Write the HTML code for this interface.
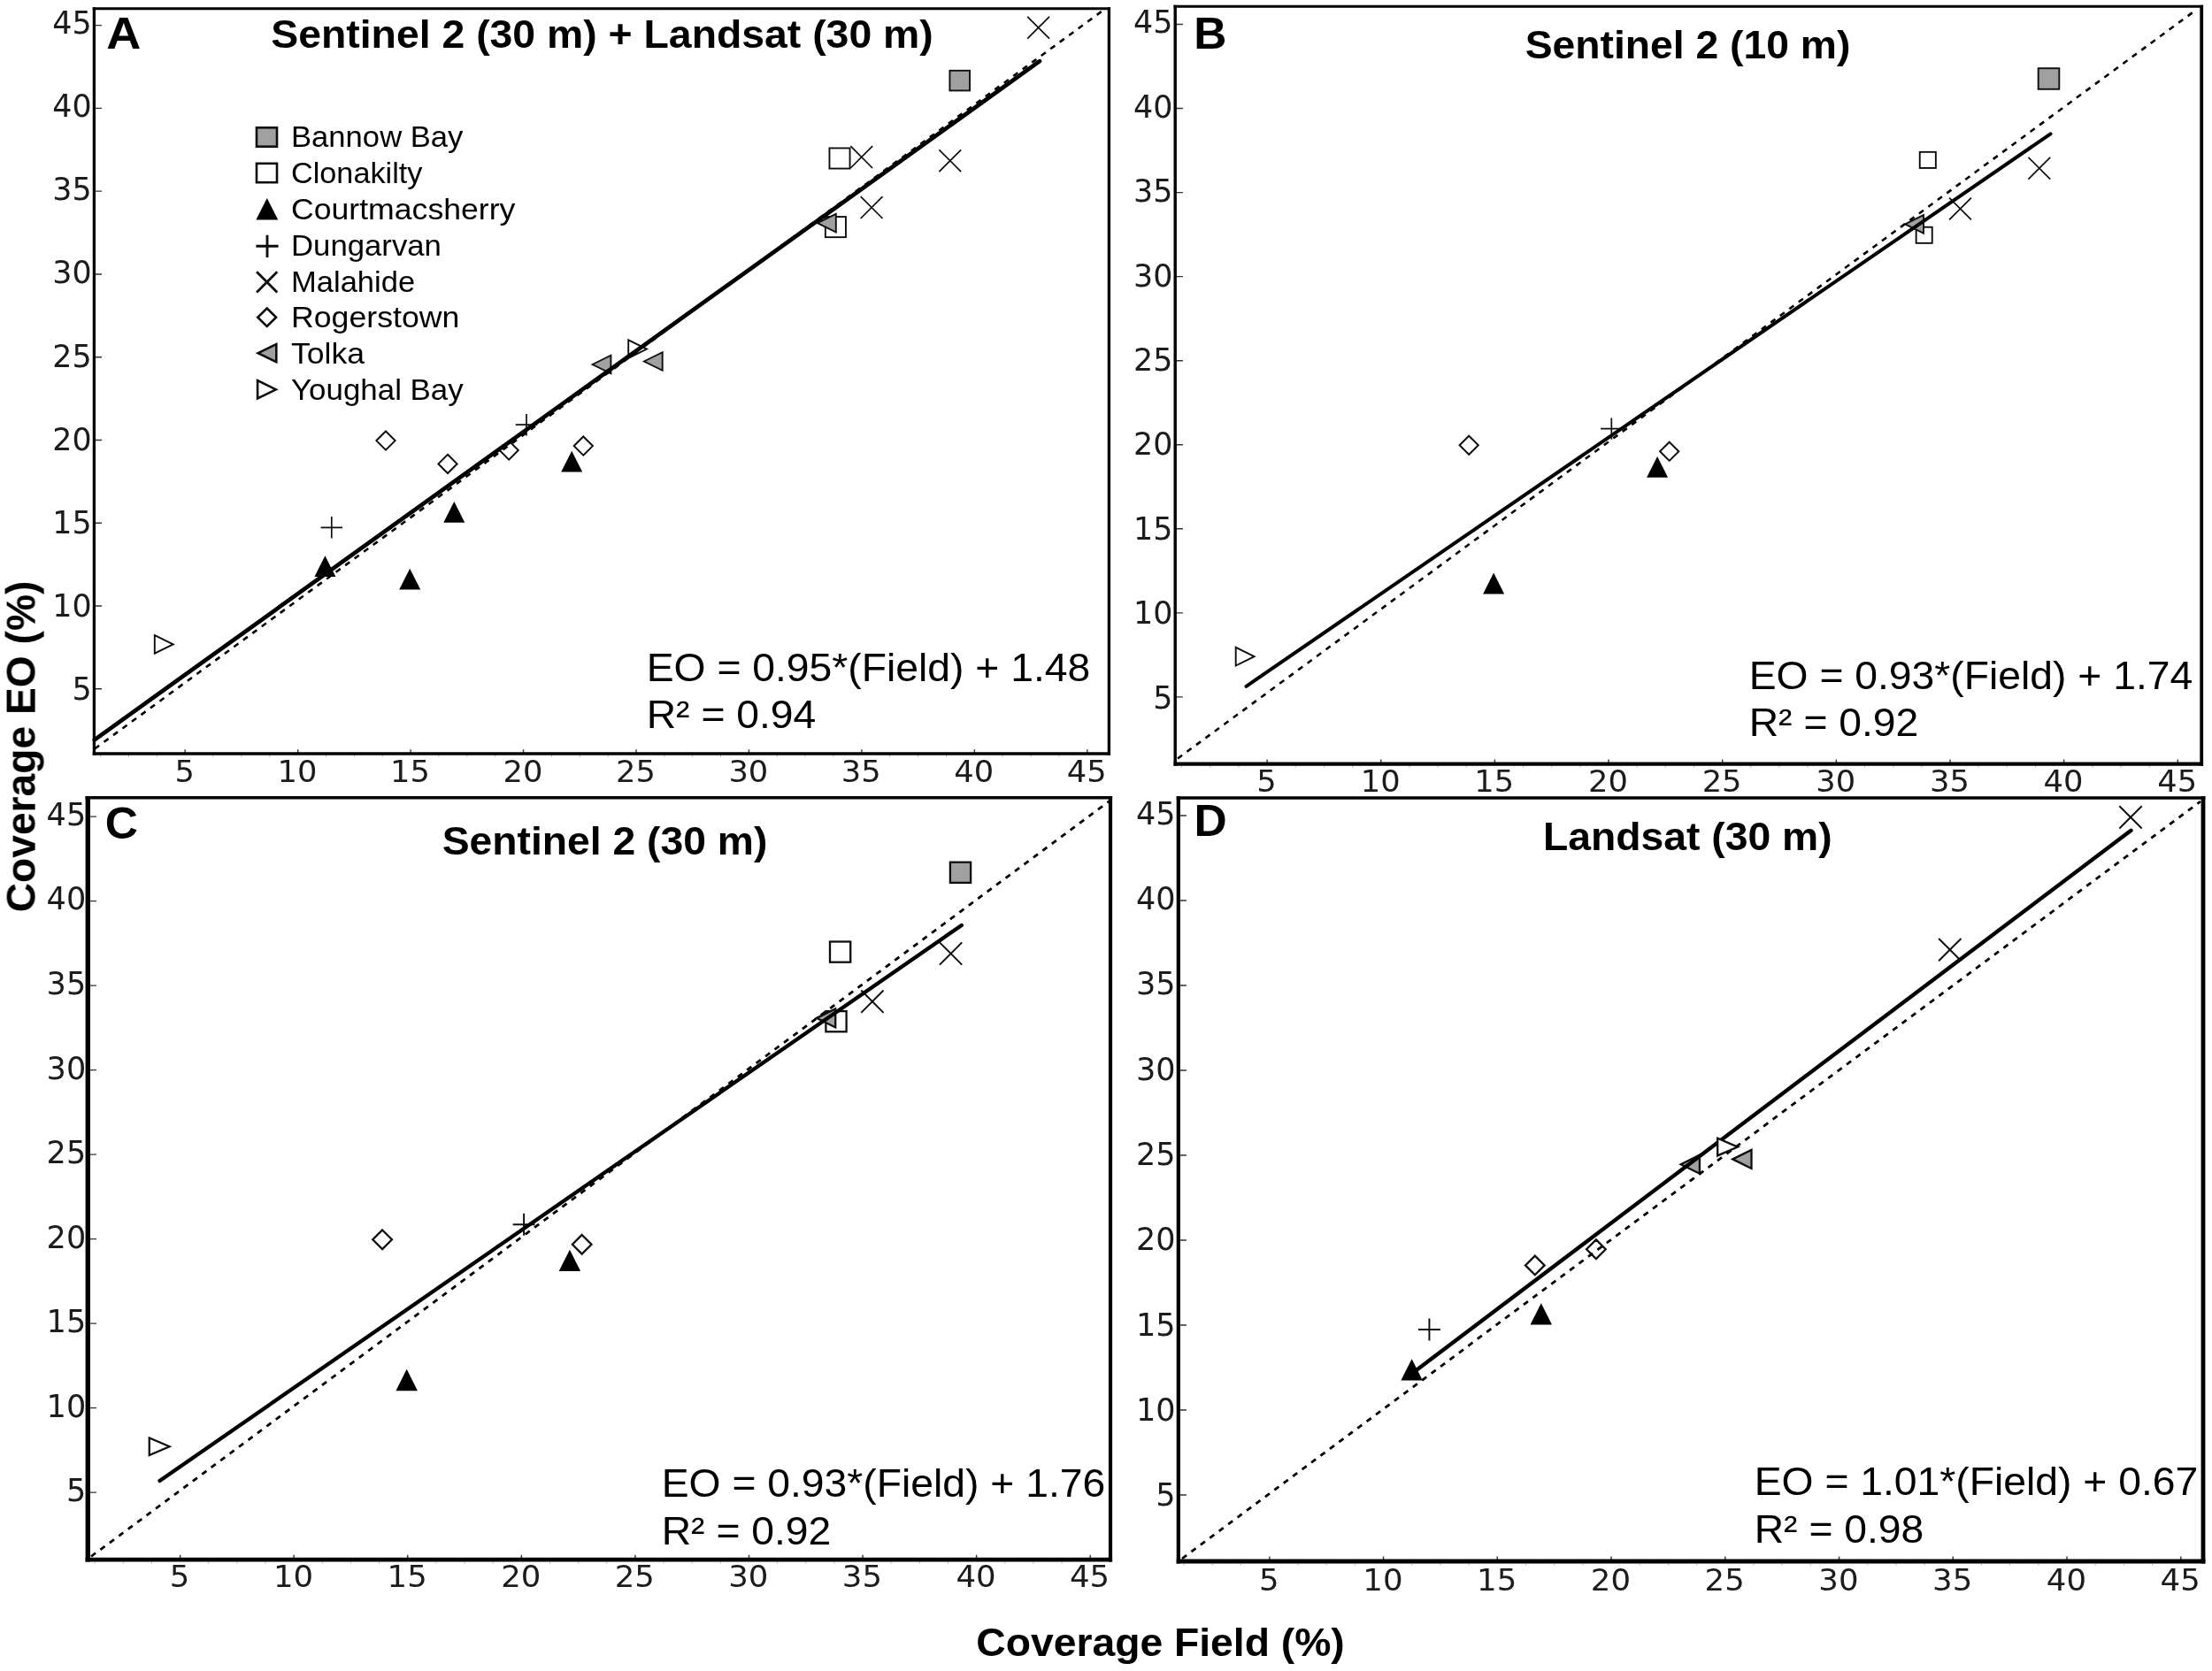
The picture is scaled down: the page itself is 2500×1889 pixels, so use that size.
<!DOCTYPE html>
<html lang="en"><head><meta charset="utf-8"><title>Coverage EO vs Coverage Field</title>
<style>html,body{margin:0;padding:0;background:#fff}svg{display:block}text{white-space:pre}</style>
</head><body>
<svg width="2500" height="1889" viewBox="0 0 2500 1889" role="img" aria-label="Coverage EO versus Coverage Field, four panels">
<defs><filter id="soft" x="0" y="0" width="2500" height="1889" filterUnits="userSpaceOnUse"><feGaussianBlur stdDeviation="0.55"/></filter></defs>
<rect x="0" y="0" width="2500" height="1889" fill="#fff"/>
<g filter="url(#soft)">
<g id="panel-A">
<path d="M113.61 853.8v2M145.47 853.8v2M177.34 853.8v2M241.06 853.8v2M272.92 853.8v2M304.79 853.8v2M368.51 853.8v2M400.38 853.8v2M432.24 853.8v2M495.96 853.8v2M527.83 853.8v2M559.69 853.8v2M623.41 853.8v2M655.27 853.8v2M687.14 853.8v2M750.86 853.8v2M782.72 853.8v2M814.59 853.8v2M878.31 853.8v2M910.17 853.8v2M942.04 853.8v2M1005.76 853.8v2M1037.62 853.8v2M1069.49 853.8v2M1133.21 853.8v2M1165.07 853.8v2M1196.94 853.8v2" stroke="#555" stroke-width="1" fill="none" opacity="0.45"/>
<path d="M209.2 852v-4.8M106.4 778.8h8.65M336.65 852v-4.8M106.4 685.02h8.65M464.1 852v-4.8M106.4 591.25h8.65M591.55 852v-4.8M106.4 497.48h8.65M719 852v-4.8M106.4 403.7h8.65M846.45 852v-4.8M106.4 309.93h8.65M973.9 852v-4.8M106.4 216.15h8.65M1101.35 852v-4.8M106.4 122.38h8.65M1228.8 852v-4.8M106.4 28.6h8.65" stroke="#333" stroke-width="1.4" fill="none"/>
<text transform="translate(208.6 884.09) scale(1.05 1)" font-family='"DejaVu Sans", "Liberation Sans", sans-serif' font-size="33.6" font-weight="normal" text-anchor="middle" fill="#1a1a1a">5</text>
<text transform="translate(103.55 790.83) scale(0.99 1)" font-family='"DejaVu Sans", "Liberation Sans", sans-serif' font-size="35.2" font-weight="normal" text-anchor="end" fill="#1a1a1a">5</text>
<text transform="translate(336.05 884.09) scale(1.05 1)" font-family='"DejaVu Sans", "Liberation Sans", sans-serif' font-size="33.6" font-weight="normal" text-anchor="middle" fill="#1a1a1a">10</text>
<text transform="translate(103.55 696.76) scale(0.99 1)" font-family='"DejaVu Sans", "Liberation Sans", sans-serif' font-size="35.2" font-weight="normal" text-anchor="end" fill="#1a1a1a">10</text>
<text transform="translate(463.5 884.09) scale(1.05 1)" font-family='"DejaVu Sans", "Liberation Sans", sans-serif' font-size="33.6" font-weight="normal" text-anchor="middle" fill="#1a1a1a">15</text>
<text transform="translate(103.55 602.68) scale(0.99 1)" font-family='"DejaVu Sans", "Liberation Sans", sans-serif' font-size="35.2" font-weight="normal" text-anchor="end" fill="#1a1a1a">15</text>
<text transform="translate(590.95 884.09) scale(1.05 1)" font-family='"DejaVu Sans", "Liberation Sans", sans-serif' font-size="33.6" font-weight="normal" text-anchor="middle" fill="#1a1a1a">20</text>
<text transform="translate(103.55 508.61) scale(0.99 1)" font-family='"DejaVu Sans", "Liberation Sans", sans-serif' font-size="35.2" font-weight="normal" text-anchor="end" fill="#1a1a1a">20</text>
<text transform="translate(718.4 884.09) scale(1.05 1)" font-family='"DejaVu Sans", "Liberation Sans", sans-serif' font-size="33.6" font-weight="normal" text-anchor="middle" fill="#1a1a1a">25</text>
<text transform="translate(103.55 414.53) scale(0.99 1)" font-family='"DejaVu Sans", "Liberation Sans", sans-serif' font-size="35.2" font-weight="normal" text-anchor="end" fill="#1a1a1a">25</text>
<text transform="translate(845.85 884.09) scale(1.05 1)" font-family='"DejaVu Sans", "Liberation Sans", sans-serif' font-size="33.6" font-weight="normal" text-anchor="middle" fill="#1a1a1a">30</text>
<text transform="translate(103.55 320.46) scale(0.99 1)" font-family='"DejaVu Sans", "Liberation Sans", sans-serif' font-size="35.2" font-weight="normal" text-anchor="end" fill="#1a1a1a">30</text>
<text transform="translate(973.3 884.09) scale(1.05 1)" font-family='"DejaVu Sans", "Liberation Sans", sans-serif' font-size="33.6" font-weight="normal" text-anchor="middle" fill="#1a1a1a">35</text>
<text transform="translate(103.55 226.38) scale(0.99 1)" font-family='"DejaVu Sans", "Liberation Sans", sans-serif' font-size="35.2" font-weight="normal" text-anchor="end" fill="#1a1a1a">35</text>
<text transform="translate(1100.75 884.09) scale(1.05 1)" font-family='"DejaVu Sans", "Liberation Sans", sans-serif' font-size="33.6" font-weight="normal" text-anchor="middle" fill="#1a1a1a">40</text>
<text transform="translate(103.55 132.31) scale(0.99 1)" font-family='"DejaVu Sans", "Liberation Sans", sans-serif' font-size="35.2" font-weight="normal" text-anchor="end" fill="#1a1a1a">40</text>
<text transform="translate(1228.2 884.09) scale(1.05 1)" font-family='"DejaVu Sans", "Liberation Sans", sans-serif' font-size="33.6" font-weight="normal" text-anchor="middle" fill="#1a1a1a">45</text>
<text transform="translate(103.55 38.23) scale(0.99 1)" font-family='"DejaVu Sans", "Liberation Sans", sans-serif' font-size="35.2" font-weight="normal" text-anchor="end" fill="#1a1a1a">45</text>
<rect x="1073.4" y="79.8" width="22.6" height="22.6" fill="#a0a0a0" stroke="#111" stroke-width="1.9"/>
<rect x="937.45" y="167.45" width="23.1" height="23.1" fill="#fff" stroke="#111" stroke-width="1.9"/>
<rect x="932.85" y="245.05" width="23.1" height="23.1" fill="#fff" stroke="#111" stroke-width="1.9"/>
<path d="M367.4 628.3L379.4 652.1L355.4 652.1Z" fill="#000" stroke="none"/>
<path d="M463.2 642.7L475.2 666.5L451.2 666.5Z" fill="#000" stroke="none"/>
<path d="M513.3 567L525.3 590.8L501.3 590.8Z" fill="#000" stroke="none"/>
<path d="M646.2 509.8L658.2 533.6L634.2 533.6Z" fill="#000" stroke="none"/>
<path d="M362.6 596.3L387 596.3M374.8 584.1L374.8 608.5" stroke="#111" stroke-width="1.7" fill="none"/>
<path d="M582.8 480.2L607.2 480.2M595 468L595 492.4" stroke="#111" stroke-width="1.7" fill="none"/>
<path d="M1161.2 18.8L1186 43.6M1161.2 43.6L1186 18.8" stroke="#111" stroke-width="1.7" fill="none"/>
<path d="M961.3 165.2L986.1 190M961.3 190L986.1 165.2" stroke="#111" stroke-width="1.7" fill="none"/>
<path d="M1061.4 169.3L1086.2 194.1M1061.4 194.1L1086.2 169.3" stroke="#111" stroke-width="1.7" fill="none"/>
<path d="M972.7 222.2L997.5 247M972.7 247L997.5 222.2" stroke="#111" stroke-width="1.7" fill="none"/>
<path d="M436 487.5L446.6 498.1L436 508.7L425.4 498.1Z" stroke="#111" stroke-width="2" fill="#fff" stroke-linejoin="miter"/>
<path d="M506 513.8L516.6 524.4L506 535L495.4 524.4Z" stroke="#111" stroke-width="2" fill="#fff" stroke-linejoin="miter"/>
<path d="M575.2 498.4L585.8 509L575.2 519.6L564.6 509Z" stroke="#111" stroke-width="2" fill="#fff" stroke-linejoin="miter"/>
<path d="M659.3 493.5L669.9 504.1L659.3 514.7L648.7 504.1Z" stroke="#111" stroke-width="2" fill="#fff" stroke-linejoin="miter"/>
<path d="M924 252.2L944.8 241.9L944.8 262.5Z" fill="#a0a0a0" stroke="#111" stroke-width="1.9" stroke-linejoin="miter"/>
<path d="M727.9 408.5L748.7 398.2L748.7 418.8Z" fill="#a0a0a0" stroke="#111" stroke-width="1.9" stroke-linejoin="miter"/>
<path d="M669.6 412L690.4 401.7L690.4 422.3Z" fill="#a0a0a0" stroke="#111" stroke-width="1.9" stroke-linejoin="miter"/>
<path d="M731 394.6L710.2 384.3L710.2 404.9Z" fill="#fff" stroke="#111" stroke-width="1.9" stroke-linejoin="miter"/>
<path d="M195.6 728.4L174.8 718.1L174.8 738.7Z" fill="#fff" stroke="#111" stroke-width="1.9" stroke-linejoin="miter"/>
<line x1="107" y1="846.5" x2="1248" y2="10.8" stroke="#000" stroke-width="2.6" stroke-dasharray="6.3 6.7"/>
<line x1="106.8" y1="836.3" x2="1175" y2="69.2" stroke="#000" stroke-width="4.7" stroke-linecap="round"/>
<path d="M104.75 9.7H1255.05" stroke="#000" stroke-width="3.1" fill="none"/>
<path d="M104.75 852H1255.05" stroke="#000" stroke-width="3.6" fill="none"/>
<path d="M106.4 8.15V853.8" stroke="#000" stroke-width="3.3" fill="none"/>
<path d="M1253.4 8.15V853.8" stroke="#000" stroke-width="3.3" fill="none"/>
<text transform="translate(120.3 55.4) scale(1.07 1)" font-family='"Liberation Sans", Arial, Helvetica, sans-serif' font-size="50.5" font-weight="bold" text-anchor="start" fill="#000">A</text>
<text transform="translate(680.5 54.2) scale(1.0541 1)" font-family='"Liberation Sans", Arial, Helvetica, sans-serif' font-size="44" font-weight="bold" text-anchor="middle" fill="#000">Sentinel 2 (30 m) + Landsat (30 m)</text>
<text transform="translate(730.7 769.9) scale(1.052 1)" font-family='"Liberation Sans", Arial, Helvetica, sans-serif' font-size="44" font-weight="normal" text-anchor="start" fill="#000">EO = 0.95*(Field) + 1.48</text>
<text transform="translate(730.7 823.3) scale(1.052 1)" font-family='"Liberation Sans", Arial, Helvetica, sans-serif' font-size="44" font-weight="normal" text-anchor="start" fill="#000">R² = 0.94</text>
</g>
<g id="panel-B">
<path d="M1335.61 865.7v2M1367.77 865.7v2M1399.94 865.7v2M1464.26 865.7v2M1496.42 865.7v2M1528.59 865.7v2M1592.91 865.7v2M1625.07 865.7v2M1657.24 865.7v2M1721.56 865.7v2M1753.72 865.7v2M1785.89 865.7v2M1850.21 865.7v2M1882.38 865.7v2M1914.54 865.7v2M1978.86 865.7v2M2011.02 865.7v2M2043.19 865.7v2M2107.51 865.7v2M2139.68 865.7v2M2171.84 865.7v2M2236.16 865.7v2M2268.32 865.7v2M2300.49 865.7v2M2364.81 865.7v2M2396.97 865.7v2M2429.14 865.7v2" stroke="#555" stroke-width="1" fill="none" opacity="0.45"/>
<path d="M1432.1 863.6v-5.1M1328.2 787.9h8.7M1560.75 863.6v-5.1M1328.2 692.85h8.7M1689.4 863.6v-5.1M1328.2 597.8h8.7M1818.05 863.6v-5.1M1328.2 502.75h8.7M1946.7 863.6v-5.1M1328.2 407.7h8.7M2075.35 863.6v-5.1M1328.2 312.65h8.7M2204 863.6v-5.1M1328.2 217.6h8.7M2332.65 863.6v-5.1M1328.2 122.55h8.7M2461.3 863.6v-5.1M1328.2 27.5h8.7" stroke="#333" stroke-width="1.4" fill="none"/>
<text transform="translate(1431.5 894.99) scale(1.05 1)" font-family='"DejaVu Sans", "Liberation Sans", sans-serif' font-size="33.6" font-weight="normal" text-anchor="middle" fill="#1a1a1a">5</text>
<text transform="translate(1325.3 800.53) scale(0.99 1)" font-family='"DejaVu Sans", "Liberation Sans", sans-serif' font-size="35.2" font-weight="normal" text-anchor="end" fill="#1a1a1a">5</text>
<text transform="translate(1560.15 894.99) scale(1.05 1)" font-family='"DejaVu Sans", "Liberation Sans", sans-serif' font-size="33.6" font-weight="normal" text-anchor="middle" fill="#1a1a1a">10</text>
<text transform="translate(1325.3 705.13) scale(0.99 1)" font-family='"DejaVu Sans", "Liberation Sans", sans-serif' font-size="35.2" font-weight="normal" text-anchor="end" fill="#1a1a1a">10</text>
<text transform="translate(1688.8 894.99) scale(1.05 1)" font-family='"DejaVu Sans", "Liberation Sans", sans-serif' font-size="33.6" font-weight="normal" text-anchor="middle" fill="#1a1a1a">15</text>
<text transform="translate(1325.3 609.73) scale(0.99 1)" font-family='"DejaVu Sans", "Liberation Sans", sans-serif' font-size="35.2" font-weight="normal" text-anchor="end" fill="#1a1a1a">15</text>
<text transform="translate(1817.45 894.99) scale(1.05 1)" font-family='"DejaVu Sans", "Liberation Sans", sans-serif' font-size="33.6" font-weight="normal" text-anchor="middle" fill="#1a1a1a">20</text>
<text transform="translate(1325.3 514.33) scale(0.99 1)" font-family='"DejaVu Sans", "Liberation Sans", sans-serif' font-size="35.2" font-weight="normal" text-anchor="end" fill="#1a1a1a">20</text>
<text transform="translate(1946.1 894.99) scale(1.05 1)" font-family='"DejaVu Sans", "Liberation Sans", sans-serif' font-size="33.6" font-weight="normal" text-anchor="middle" fill="#1a1a1a">25</text>
<text transform="translate(1325.3 418.93) scale(0.99 1)" font-family='"DejaVu Sans", "Liberation Sans", sans-serif' font-size="35.2" font-weight="normal" text-anchor="end" fill="#1a1a1a">25</text>
<text transform="translate(2074.75 894.99) scale(1.05 1)" font-family='"DejaVu Sans", "Liberation Sans", sans-serif' font-size="33.6" font-weight="normal" text-anchor="middle" fill="#1a1a1a">30</text>
<text transform="translate(1325.3 323.53) scale(0.99 1)" font-family='"DejaVu Sans", "Liberation Sans", sans-serif' font-size="35.2" font-weight="normal" text-anchor="end" fill="#1a1a1a">30</text>
<text transform="translate(2203.4 894.99) scale(1.05 1)" font-family='"DejaVu Sans", "Liberation Sans", sans-serif' font-size="33.6" font-weight="normal" text-anchor="middle" fill="#1a1a1a">35</text>
<text transform="translate(1325.3 228.13) scale(0.99 1)" font-family='"DejaVu Sans", "Liberation Sans", sans-serif' font-size="35.2" font-weight="normal" text-anchor="end" fill="#1a1a1a">35</text>
<text transform="translate(2332.05 894.99) scale(1.05 1)" font-family='"DejaVu Sans", "Liberation Sans", sans-serif' font-size="33.6" font-weight="normal" text-anchor="middle" fill="#1a1a1a">40</text>
<text transform="translate(1325.3 132.73) scale(0.99 1)" font-family='"DejaVu Sans", "Liberation Sans", sans-serif' font-size="35.2" font-weight="normal" text-anchor="end" fill="#1a1a1a">40</text>
<text transform="translate(2460.7 894.99) scale(1.05 1)" font-family='"DejaVu Sans", "Liberation Sans", sans-serif' font-size="33.6" font-weight="normal" text-anchor="middle" fill="#1a1a1a">45</text>
<text transform="translate(1325.3 37.33) scale(0.99 1)" font-family='"DejaVu Sans", "Liberation Sans", sans-serif' font-size="35.2" font-weight="normal" text-anchor="end" fill="#1a1a1a">45</text>
<rect x="2303.7" y="77.2" width="23.6" height="23.6" fill="#a0a0a0" stroke="#111" stroke-width="1.9"/>
<rect x="2169.75" y="171.85" width="18.1" height="18.1" fill="#fff" stroke="#111" stroke-width="1.9"/>
<rect x="2165.65" y="256.75" width="18.1" height="18.1" fill="#fff" stroke="#111" stroke-width="1.9"/>
<path d="M1688.1 647.6L1700.1 671.4L1676.1 671.4Z" fill="#000" stroke="none"/>
<path d="M1873.1 516L1885.1 539.8L1861.1 539.8Z" fill="#000" stroke="none"/>
<path d="M1809.1 484.6L1833.5 484.6M1821.3 472.4L1821.3 496.8" stroke="#111" stroke-width="1.7" fill="none"/>
<path d="M2292.4 177.8L2317.2 202.6M2292.4 202.6L2317.2 177.8" stroke="#111" stroke-width="1.7" fill="none"/>
<path d="M2203.1 223.6L2227.9 248.4M2203.1 248.4L2227.9 223.6" stroke="#111" stroke-width="1.7" fill="none"/>
<path d="M1660.2 492.7L1670.8 503.3L1660.2 513.9L1649.6 503.3Z" stroke="#111" stroke-width="2" fill="#fff" stroke-linejoin="miter"/>
<path d="M1886.7 499.7L1897.3 510.3L1886.7 520.9L1876.1 510.3Z" stroke="#111" stroke-width="2" fill="#fff" stroke-linejoin="miter"/>
<path d="M2153.2 253.4L2174 243.1L2174 263.7Z" fill="#a0a0a0" stroke="#111" stroke-width="1.9" stroke-linejoin="miter"/>
<path d="M1417.5 742.2L1396.7 731.9L1396.7 752.5Z" fill="#fff" stroke="#111" stroke-width="1.9" stroke-linejoin="miter"/>
<line x1="1331" y1="857.5" x2="2483" y2="10.5" stroke="#000" stroke-width="2.6" stroke-dasharray="6.3 6.7"/>
<line x1="1408.5" y1="775.8" x2="2317.5" y2="151.4" stroke="#000" stroke-width="4" stroke-linecap="round"/>
<path d="M1326.5 7.3H2490.1" stroke="#000" stroke-width="3" fill="none"/>
<path d="M1326.5 863.6H2490.1" stroke="#000" stroke-width="4.2" fill="none"/>
<path d="M1328.2 5.8V865.7" stroke="#000" stroke-width="3.4" fill="none"/>
<path d="M2488.2 5.8V865.7" stroke="#000" stroke-width="3.8" fill="none"/>
<text transform="translate(1349.2 55.4) scale(1.02 1)" font-family='"Liberation Sans", Arial, Helvetica, sans-serif' font-size="50.5" font-weight="bold" text-anchor="start" fill="#000">B</text>
<text transform="translate(1907.5 66.4) scale(1.052 1)" font-family='"Liberation Sans", Arial, Helvetica, sans-serif' font-size="44" font-weight="bold" text-anchor="middle" fill="#000">Sentinel 2 (10 m)</text>
<text transform="translate(1976.7 779.4) scale(1.052 1)" font-family='"Liberation Sans", Arial, Helvetica, sans-serif' font-size="44" font-weight="normal" text-anchor="start" fill="#000">EO = 0.93*(Field) + 1.74</text>
<text transform="translate(1976.7 832.3) scale(1.052 1)" font-family='"Liberation Sans", Arial, Helvetica, sans-serif' font-size="44" font-weight="normal" text-anchor="start" fill="#000">R² = 0.92</text>
</g>
<g id="panel-C">
<path d="M107.17 1765.6v2M139.31 1765.6v2M171.46 1765.6v2M235.74 1765.6v2M267.89 1765.6v2M300.03 1765.6v2M364.32 1765.6v2M396.46 1765.6v2M428.61 1765.6v2M492.89 1765.6v2M525.04 1765.6v2M557.18 1765.6v2M621.47 1765.6v2M653.61 1765.6v2M685.76 1765.6v2M750.04 1765.6v2M782.19 1765.6v2M814.33 1765.6v2M878.62 1765.6v2M910.76 1765.6v2M942.91 1765.6v2M1007.19 1765.6v2M1039.34 1765.6v2M1071.48 1765.6v2M1135.77 1765.6v2M1167.91 1765.6v2M1200.06 1765.6v2" stroke="#555" stroke-width="1" fill="none" opacity="0.45"/>
<path d="M203.6 1763.2v-5.4M99.3 1687.1h9.7M332.17 1763.2v-5.4M99.3 1591.6h9.7M460.75 1763.2v-5.4M99.3 1496.1h9.7M589.33 1763.2v-5.4M99.3 1400.6h9.7M717.9 1763.2v-5.4M99.3 1305.1h9.7M846.48 1763.2v-5.4M99.3 1209.6h9.7M975.05 1763.2v-5.4M99.3 1114.1h9.7M1103.62 1763.2v-5.4M99.3 1018.6h9.7M1232.2 1763.2v-5.4M99.3 923.1h9.7" stroke="#333" stroke-width="1.4" fill="none"/>
<text transform="translate(203 1794.24) scale(1.05 1)" font-family='"DejaVu Sans", "Liberation Sans", sans-serif' font-size="33.8" font-weight="normal" text-anchor="middle" fill="#1a1a1a">5</text>
<text transform="translate(97.2 1697.4) scale(0.99 1)" font-family='"DejaVu Sans", "Liberation Sans", sans-serif' font-size="35.4" font-weight="normal" text-anchor="end" fill="#1a1a1a">5</text>
<text transform="translate(331.57 1794.24) scale(1.05 1)" font-family='"DejaVu Sans", "Liberation Sans", sans-serif' font-size="33.8" font-weight="normal" text-anchor="middle" fill="#1a1a1a">10</text>
<text transform="translate(97.2 1601.84) scale(0.99 1)" font-family='"DejaVu Sans", "Liberation Sans", sans-serif' font-size="35.4" font-weight="normal" text-anchor="end" fill="#1a1a1a">10</text>
<text transform="translate(460.15 1794.24) scale(1.05 1)" font-family='"DejaVu Sans", "Liberation Sans", sans-serif' font-size="33.8" font-weight="normal" text-anchor="middle" fill="#1a1a1a">15</text>
<text transform="translate(97.2 1506.28) scale(0.99 1)" font-family='"DejaVu Sans", "Liberation Sans", sans-serif' font-size="35.4" font-weight="normal" text-anchor="end" fill="#1a1a1a">15</text>
<text transform="translate(588.73 1794.24) scale(1.05 1)" font-family='"DejaVu Sans", "Liberation Sans", sans-serif' font-size="33.8" font-weight="normal" text-anchor="middle" fill="#1a1a1a">20</text>
<text transform="translate(97.2 1410.72) scale(0.99 1)" font-family='"DejaVu Sans", "Liberation Sans", sans-serif' font-size="35.4" font-weight="normal" text-anchor="end" fill="#1a1a1a">20</text>
<text transform="translate(717.3 1794.24) scale(1.05 1)" font-family='"DejaVu Sans", "Liberation Sans", sans-serif' font-size="33.8" font-weight="normal" text-anchor="middle" fill="#1a1a1a">25</text>
<text transform="translate(97.2 1315.15) scale(0.99 1)" font-family='"DejaVu Sans", "Liberation Sans", sans-serif' font-size="35.4" font-weight="normal" text-anchor="end" fill="#1a1a1a">25</text>
<text transform="translate(845.88 1794.24) scale(1.05 1)" font-family='"DejaVu Sans", "Liberation Sans", sans-serif' font-size="33.8" font-weight="normal" text-anchor="middle" fill="#1a1a1a">30</text>
<text transform="translate(97.2 1219.59) scale(0.99 1)" font-family='"DejaVu Sans", "Liberation Sans", sans-serif' font-size="35.4" font-weight="normal" text-anchor="end" fill="#1a1a1a">30</text>
<text transform="translate(974.45 1794.24) scale(1.05 1)" font-family='"DejaVu Sans", "Liberation Sans", sans-serif' font-size="33.8" font-weight="normal" text-anchor="middle" fill="#1a1a1a">35</text>
<text transform="translate(97.2 1124.03) scale(0.99 1)" font-family='"DejaVu Sans", "Liberation Sans", sans-serif' font-size="35.4" font-weight="normal" text-anchor="end" fill="#1a1a1a">35</text>
<text transform="translate(1103.03 1794.24) scale(1.05 1)" font-family='"DejaVu Sans", "Liberation Sans", sans-serif' font-size="33.8" font-weight="normal" text-anchor="middle" fill="#1a1a1a">40</text>
<text transform="translate(97.2 1028.47) scale(0.99 1)" font-family='"DejaVu Sans", "Liberation Sans", sans-serif' font-size="35.4" font-weight="normal" text-anchor="end" fill="#1a1a1a">40</text>
<text transform="translate(1231.6 1794.24) scale(1.05 1)" font-family='"DejaVu Sans", "Liberation Sans", sans-serif' font-size="33.8" font-weight="normal" text-anchor="middle" fill="#1a1a1a">45</text>
<text transform="translate(97.2 932.9) scale(0.99 1)" font-family='"DejaVu Sans", "Liberation Sans", sans-serif' font-size="35.4" font-weight="normal" text-anchor="end" fill="#1a1a1a">45</text>
<rect x="1073.9" y="974.7" width="23.2" height="23.2" fill="#a0a0a0" stroke="#111" stroke-width="2.3"/>
<rect x="938" y="1064.5" width="23.2" height="23.2" fill="#fff" stroke="#111" stroke-width="2.3"/>
<rect x="933.4" y="1143.1" width="23.2" height="23.2" fill="#fff" stroke="#111" stroke-width="2.3"/>
<path d="M459.7 1547.86L471.94 1572.14L447.46 1572.14Z" fill="#000" stroke="none"/>
<path d="M643.9 1412.76L656.14 1437.04L631.66 1437.04Z" fill="#000" stroke="none"/>
<path d="M579.66 1384.2L604.54 1384.2M592.1 1371.76L592.1 1396.64" stroke="#111" stroke-width="1.95" fill="none"/>
<path d="M1061.95 1065.35L1087.25 1090.65M1061.95 1090.65L1087.25 1065.35" stroke="#111" stroke-width="1.95" fill="none"/>
<path d="M973.25 1119.55L998.55 1144.85M973.25 1144.85L998.55 1119.55" stroke="#111" stroke-width="1.95" fill="none"/>
<path d="M432.1 1390.49L442.91 1401.3L432.1 1412.11L421.29 1401.3Z" stroke="#111" stroke-width="2.3" fill="#fff" stroke-linejoin="miter"/>
<path d="M657.7 1395.99L668.51 1406.8L657.7 1417.61L646.89 1406.8Z" stroke="#111" stroke-width="2.3" fill="#fff" stroke-linejoin="miter"/>
<path d="M922.99 1150.9L944.21 1140.39L944.21 1161.41Z" fill="#a0a0a0" stroke="#111" stroke-width="2.3" stroke-linejoin="miter"/>
<path d="M191.62 1635.3L168.78 1625.51L168.78 1645.09Z" fill="#fff" stroke="#111" stroke-width="2.3" stroke-linejoin="miter"/>
<line x1="103" y1="1759.5" x2="1254" y2="905.5" stroke="#000" stroke-width="2.8" stroke-dasharray="6.3 6.7"/>
<line x1="180.5" y1="1674" x2="1086.8" y2="1046" stroke="#000" stroke-width="4.3" stroke-linecap="round"/>
<path d="M96.6 901.7H1257.1" stroke="#000" stroke-width="3.6" fill="none"/>
<path d="M96.6 1763.2H1257.1" stroke="#000" stroke-width="4.8" fill="none"/>
<path d="M99.3 899.9V1765.6" stroke="#000" stroke-width="5.4" fill="none"/>
<path d="M1255 899.9V1765.6" stroke="#000" stroke-width="4.2" fill="none"/>
<text transform="translate(118.8 947.6) scale(1.02 1)" font-family='"Liberation Sans", Arial, Helvetica, sans-serif' font-size="50.5" font-weight="bold" text-anchor="start" fill="#000">C</text>
<text transform="translate(683.5 965.9) scale(1.052 1)" font-family='"Liberation Sans", Arial, Helvetica, sans-serif' font-size="44" font-weight="bold" text-anchor="middle" fill="#000">Sentinel 2 (30 m)</text>
<text transform="translate(747.7 1692.1) scale(1.052 1)" font-family='"Liberation Sans", Arial, Helvetica, sans-serif' font-size="44" font-weight="normal" text-anchor="start" fill="#000">EO = 0.93*(Field) + 1.76</text>
<text transform="translate(747.7 1745.5) scale(1.052 1)" font-family='"Liberation Sans", Arial, Helvetica, sans-serif' font-size="44" font-weight="normal" text-anchor="start" fill="#000">R² = 0.92</text>
</g>
<g id="panel-D">
<path d="M1338.24 1767.5v2M1370.42 1767.5v2M1402.61 1767.5v2M1466.99 1767.5v2M1499.17 1767.5v2M1531.36 1767.5v2M1595.74 1767.5v2M1627.92 1767.5v2M1660.11 1767.5v2M1724.49 1767.5v2M1756.67 1767.5v2M1788.86 1767.5v2M1853.24 1767.5v2M1885.42 1767.5v2M1917.61 1767.5v2M1981.99 1767.5v2M2014.17 1767.5v2M2046.36 1767.5v2M2110.74 1767.5v2M2142.93 1767.5v2M2175.11 1767.5v2M2239.49 1767.5v2M2271.68 1767.5v2M2303.86 1767.5v2M2368.24 1767.5v2M2400.43 1767.5v2M2432.61 1767.5v2" stroke="#555" stroke-width="1" fill="none" opacity="0.45"/>
<path d="M1434.8 1765v-5.5M1331.8 1690h9.1M1563.55 1765v-5.5M1331.8 1594h9.1M1692.3 1765v-5.5M1331.8 1498h9.1M1821.05 1765v-5.5M1331.8 1402h9.1M1949.8 1765v-5.5M1331.8 1306h9.1M2078.55 1765v-5.5M1331.8 1210h9.1M2207.3 1765v-5.5M1331.8 1114h9.1M2336.05 1765v-5.5M1331.8 1018h9.1M2464.8 1765v-5.5M1331.8 922h9.1" stroke="#333" stroke-width="1.4" fill="none"/>
<text transform="translate(1434.2 1797.94) scale(1.05 1)" font-family='"DejaVu Sans", "Liberation Sans", sans-serif' font-size="33.8" font-weight="normal" text-anchor="middle" fill="#1a1a1a">5</text>
<text transform="translate(1328.5 1702.4) scale(0.99 1)" font-family='"DejaVu Sans", "Liberation Sans", sans-serif' font-size="35.4" font-weight="normal" text-anchor="end" fill="#1a1a1a">5</text>
<text transform="translate(1562.95 1797.94) scale(1.05 1)" font-family='"DejaVu Sans", "Liberation Sans", sans-serif' font-size="33.8" font-weight="normal" text-anchor="middle" fill="#1a1a1a">10</text>
<text transform="translate(1328.5 1606.08) scale(0.99 1)" font-family='"DejaVu Sans", "Liberation Sans", sans-serif' font-size="35.4" font-weight="normal" text-anchor="end" fill="#1a1a1a">10</text>
<text transform="translate(1691.7 1797.94) scale(1.05 1)" font-family='"DejaVu Sans", "Liberation Sans", sans-serif' font-size="33.8" font-weight="normal" text-anchor="middle" fill="#1a1a1a">15</text>
<text transform="translate(1328.5 1509.75) scale(0.99 1)" font-family='"DejaVu Sans", "Liberation Sans", sans-serif' font-size="35.4" font-weight="normal" text-anchor="end" fill="#1a1a1a">15</text>
<text transform="translate(1820.45 1797.94) scale(1.05 1)" font-family='"DejaVu Sans", "Liberation Sans", sans-serif' font-size="33.8" font-weight="normal" text-anchor="middle" fill="#1a1a1a">20</text>
<text transform="translate(1328.5 1413.43) scale(0.99 1)" font-family='"DejaVu Sans", "Liberation Sans", sans-serif' font-size="35.4" font-weight="normal" text-anchor="end" fill="#1a1a1a">20</text>
<text transform="translate(1949.2 1797.94) scale(1.05 1)" font-family='"DejaVu Sans", "Liberation Sans", sans-serif' font-size="33.8" font-weight="normal" text-anchor="middle" fill="#1a1a1a">25</text>
<text transform="translate(1328.5 1317.1) scale(0.99 1)" font-family='"DejaVu Sans", "Liberation Sans", sans-serif' font-size="35.4" font-weight="normal" text-anchor="end" fill="#1a1a1a">25</text>
<text transform="translate(2077.95 1797.94) scale(1.05 1)" font-family='"DejaVu Sans", "Liberation Sans", sans-serif' font-size="33.8" font-weight="normal" text-anchor="middle" fill="#1a1a1a">30</text>
<text transform="translate(1328.5 1220.78) scale(0.99 1)" font-family='"DejaVu Sans", "Liberation Sans", sans-serif' font-size="35.4" font-weight="normal" text-anchor="end" fill="#1a1a1a">30</text>
<text transform="translate(2206.7 1797.94) scale(1.05 1)" font-family='"DejaVu Sans", "Liberation Sans", sans-serif' font-size="33.8" font-weight="normal" text-anchor="middle" fill="#1a1a1a">35</text>
<text transform="translate(1328.5 1124.45) scale(0.99 1)" font-family='"DejaVu Sans", "Liberation Sans", sans-serif' font-size="35.4" font-weight="normal" text-anchor="end" fill="#1a1a1a">35</text>
<text transform="translate(2335.45 1797.94) scale(1.05 1)" font-family='"DejaVu Sans", "Liberation Sans", sans-serif' font-size="33.8" font-weight="normal" text-anchor="middle" fill="#1a1a1a">40</text>
<text transform="translate(1328.5 1028.13) scale(0.99 1)" font-family='"DejaVu Sans", "Liberation Sans", sans-serif' font-size="35.4" font-weight="normal" text-anchor="end" fill="#1a1a1a">40</text>
<text transform="translate(2464.2 1797.94) scale(1.05 1)" font-family='"DejaVu Sans", "Liberation Sans", sans-serif' font-size="33.8" font-weight="normal" text-anchor="middle" fill="#1a1a1a">45</text>
<text transform="translate(1328.5 931.8) scale(0.99 1)" font-family='"DejaVu Sans", "Liberation Sans", sans-serif' font-size="35.4" font-weight="normal" text-anchor="end" fill="#1a1a1a">45</text>
<path d="M1595.6 1536.16L1607.84 1560.44L1583.36 1560.44Z" fill="#000" stroke="none"/>
<path d="M1741.8 1473.26L1754.04 1497.54L1729.56 1497.54Z" fill="#000" stroke="none"/>
<path d="M1602.96 1503L1627.84 1503M1615.4 1490.56L1615.4 1515.44" stroke="#111" stroke-width="1.95" fill="none"/>
<path d="M2395.35 911.25L2420.65 936.55M2395.35 936.55L2420.65 911.25" stroke="#111" stroke-width="1.95" fill="none"/>
<path d="M2191.15 1060.95L2216.45 1086.25M2191.15 1086.25L2216.45 1060.95" stroke="#111" stroke-width="1.95" fill="none"/>
<path d="M1734.8 1419.59L1745.61 1430.4L1734.8 1441.21L1723.99 1430.4Z" stroke="#111" stroke-width="2.3" fill="#fff" stroke-linejoin="miter"/>
<path d="M1803.9 1401.39L1814.71 1412.2L1803.9 1423.01L1793.09 1412.2Z" stroke="#111" stroke-width="2.3" fill="#fff" stroke-linejoin="miter"/>
<path d="M1958.29 1310.4L1979.51 1299.89L1979.51 1320.91Z" fill="#a0a0a0" stroke="#111" stroke-width="2.3" stroke-linejoin="miter"/>
<path d="M1899.69 1316.2L1920.91 1305.69L1920.91 1326.71Z" fill="#a0a0a0" stroke="#111" stroke-width="2.3" stroke-linejoin="miter"/>
<line x1="1336" y1="1762" x2="2487" y2="906" stroke="#000" stroke-width="2.8" stroke-dasharray="6.3 6.7"/>
<line x1="1599.7" y1="1549.7" x2="2408.5" y2="938.8" stroke="#000" stroke-width="4.4" stroke-linecap="round"/>
<path d="M1964.02 1296.6L1941.18 1286.81L1941.18 1306.39Z" fill="#fff" stroke="#111" stroke-width="2.3" stroke-linejoin="miter"/>
<path d="M1329.7 902H2492.4" stroke="#000" stroke-width="3.7" fill="none"/>
<path d="M1329.7 1765H2492.4" stroke="#000" stroke-width="5" fill="none"/>
<path d="M1331.8 900.15V1767.5" stroke="#000" stroke-width="4.2" fill="none"/>
<path d="M2490 900.15V1767.5" stroke="#000" stroke-width="4.8" fill="none"/>
<text transform="translate(1349.4 944.8) scale(1.02 1)" font-family='"Liberation Sans", Arial, Helvetica, sans-serif' font-size="50.5" font-weight="bold" text-anchor="start" fill="#000">D</text>
<text transform="translate(1907.3 961.1) scale(1.052 1)" font-family='"Liberation Sans", Arial, Helvetica, sans-serif' font-size="44" font-weight="bold" text-anchor="middle" fill="#000">Landsat (30 m)</text>
<text transform="translate(1982.7 1690.2) scale(1.052 1)" font-family='"Liberation Sans", Arial, Helvetica, sans-serif' font-size="44" font-weight="normal" text-anchor="start" fill="#000">EO = 1.01*(Field) + 0.67</text>
<text transform="translate(1982.7 1743.6) scale(1.052 1)" font-family='"Liberation Sans", Arial, Helvetica, sans-serif' font-size="44" font-weight="normal" text-anchor="start" fill="#000">R² = 0.98</text>
</g>
<g id="legend">
<rect x="290" y="144.3" width="23" height="21.4" fill="#a0a0a0" stroke="#111" stroke-width="2.6"/>
<rect x="290" y="184.8" width="23" height="21.4" fill="#fff" stroke="#111" stroke-width="2.6"/>
<path d="M301.8 224L314.25 248.6L289.35 248.6Z" fill="#000" stroke="none"/>
<path d="M289.4 278.3L314.6 278.3M302 265.7L302 290.9" stroke="#111" stroke-width="2.9" fill="none"/>
<path d="M290.1 307.3L313.3 330.5M290.1 330.5L313.3 307.3" stroke="#111" stroke-width="2.8" fill="none"/>
<path d="M301.7 348.5L312.1 358.7L301.7 368.9L291.3 358.7Z" stroke="#111" stroke-width="2.6" fill="#fff" stroke-linejoin="miter"/>
<path d="M291.7 399.2L312.3 389.2L312.3 409.2Z" fill="#a0a0a0" stroke="#111" stroke-width="2.6" stroke-linejoin="miter"/>
<path d="M311.9 440.3L291.1 430.1L291.1 450.5Z" fill="#fff" stroke="#111" stroke-width="2.6" stroke-linejoin="miter"/>
<text transform="translate(329 166.2) scale(1.0369 1)" font-family='"Liberation Sans", Arial, Helvetica, sans-serif' font-size="33.4" font-weight="normal" text-anchor="start" fill="#000">Bannow Bay</text>
<text transform="translate(329 206.7) scale(1.0254 1)" font-family='"Liberation Sans", Arial, Helvetica, sans-serif' font-size="33.4" font-weight="normal" text-anchor="start" fill="#000">Clonakilty</text>
<text transform="translate(329 247.9) scale(1.067 1)" font-family='"Liberation Sans", Arial, Helvetica, sans-serif' font-size="33.4" font-weight="normal" text-anchor="start" fill="#000">Courtmacsherry</text>
<text transform="translate(329 289.1) scale(1.04 1)" font-family='"Liberation Sans", Arial, Helvetica, sans-serif' font-size="33.4" font-weight="normal" text-anchor="start" fill="#000">Dungarvan</text>
<text transform="translate(329 329.6) scale(1.0348 1)" font-family='"Liberation Sans", Arial, Helvetica, sans-serif' font-size="33.4" font-weight="normal" text-anchor="start" fill="#000">Malahide</text>
<text transform="translate(329 370.3) scale(1.0681 1)" font-family='"Liberation Sans", Arial, Helvetica, sans-serif' font-size="33.4" font-weight="normal" text-anchor="start" fill="#000">Rogerstown</text>
<text transform="translate(329 410.8) scale(1.066 1)" font-family='"Liberation Sans", Arial, Helvetica, sans-serif' font-size="33.4" font-weight="normal" text-anchor="start" fill="#000">Tolka</text>
<text transform="translate(329 452) scale(1.0452 1)" font-family='"Liberation Sans", Arial, Helvetica, sans-serif' font-size="33.4" font-weight="normal" text-anchor="start" fill="#000">Youghal Bay</text>
</g>
<text transform="translate(1311.5 1871.5) scale(1.052 1)" font-family='"Liberation Sans", Arial, Helvetica, sans-serif' font-size="44" font-weight="bold" text-anchor="middle" fill="#000">Coverage Field (%)</text>
<text transform="translate(39.6 844) rotate(-90)" font-family='"Liberation Sans", Arial, Helvetica, sans-serif' font-size="46.2" font-weight="bold" text-anchor="middle" fill="#000">Coverage EO (%)</text>
</g>
</svg>
</body></html>
